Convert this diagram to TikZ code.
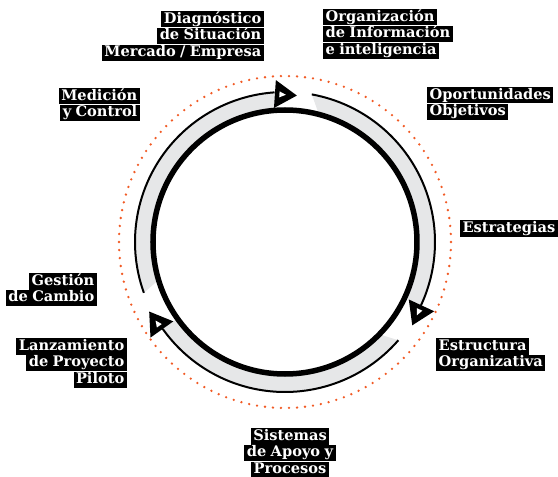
\documentclass[tikz,border=0pt]{standalone}
\usepackage{fontspec}
\setmainfont[WordSpace=0.85]{DejaVu Serif}
\usetikzlibrary{positioning}
\definecolor{band}{HTML}{E6E7E8}
\definecolor{dotc}{HTML}{F15A24}
\tikzset{
  lbl/.style={fill=black, text=white, font=\bfseries\fontsize{14.6}{16}\selectfont,
    inner xsep=2.5pt, inner ysep=1pt, text height=11pt, text depth=3.3pt},
  pics/arrowtip/.style={code={
    \fill[black] (0,-14)--(22,0)--(0,14)--cycle;
    \fill[white] (4.5,-3)--(11,0)--(4.5,3)--cycle;}}
}
\begin{document}
\begin{tikzpicture}[x=1pt, y=1pt, line join=round]
  \def\rin{132}\def\rout{150}\def\rdot{166}
  \useasboundingbox (-285,-235) rectangle (273,242);
  % dotted ring
  \foreach \i in {1,...,130} \fill[dotc] ({\i*(360/130)}:\rdot) circle (1.3);
  % grey bands
  \fill[band] (199.8:\rout) arc[start angle=199.8, end angle=94, radius=\rout]
    -- (94:\rin) arc[start angle=94, end angle=196.7, radius=\rin] -- cycle;
  \fill[band] (79.7:\rout) arc[start angle=79.7, end angle=-25, radius=\rout]
    -- (-25:\rin) arc[start angle=-25, end angle=75.1, radius=\rin] -- cycle;
  \fill[band] (-40.9:\rout) arc[start angle=-40.9, end angle=-144.6, radius=\rout]
    -- (-144.6:\rin) arc[start angle=-144.6, end angle=-44.4, radius=\rin] -- cycle;
  % outer lines
  \draw[line width=2pt] (199.8:\rout) arc[start angle=199.8, end angle=94, radius=\rout];
  \draw[line width=2pt] (79.7:\rout) arc[start angle=79.7, end angle=-25, radius=\rout];
  \draw[line width=2pt] (-40.9:\rout) arc[start angle=-40.9, end angle=-144.6, radius=\rout];
  % inner ring
  \draw[line width=5.5pt] (0,0) circle (\rin);
  % arrow tips
  \pic[rotate=-3.9] at (93.9:148.3) {arrowtip};
  \pic[rotate=-114.9] at (-24.9:150.5) {arrowtip};
  \pic[rotate=125.4] at (215.4:151) {arrowtip};
  % labels
  \node[lbl, anchor=north east] (diag1) at (-21,231) {Diagnóstico};
  \node[lbl, anchor=north east] (diag2) at (diag1.south east) {de Situación};
  \node[lbl, anchor=north east] (diag3) at (diag2.south east) {Mercado / Empresa};
  \node[lbl, anchor=north west] (org1) at (38,233) {Organización};
  \node[lbl, anchor=north west] (org2) at (org1.south west) {de Información};
  \node[lbl, anchor=north west] (org3) at (org2.south west) {e inteligencia};
  \node[lbl, anchor=north west] (opo1) at (142,155) {Oportunidades};
  \node[lbl, anchor=north west] (opo2) at (opo1.south west) {Objetivos};
  \node[lbl, anchor=north east] (est1) at (273,22) {Estrategias};
  \node[lbl, anchor=north west] (str1) at (151,-96) {Estructura};
  \node[lbl, anchor=north west] (str2) at (str1.south west) {Organizativa};
  \node[lbl, anchor=north] (sis1) at (5,-186) {Sistemas};
  \node[lbl, anchor=north] (sis2) at (sis1.south) {de Apoyo y};
  \node[lbl, anchor=north] (sis3) at (sis2.south) {Procesos};
  \node[lbl, anchor=north east] (lan1) at (-158,-96) {Lanzamiento};
  \node[lbl, anchor=north east] (lan2) at (lan1.south east) {de Proyecto};
  \node[lbl, anchor=north east] (lan3) at (lan2.south east) {Piloto};
  \node[lbl, anchor=north east] (ges1) at (-188,-31) {Gestión};
  \node[lbl, anchor=north east] (ges2) at (ges1.south east) {de Cambio};
  \node[lbl, anchor=north east] (med1) at (-145,154) {Medición};
  \node[lbl, anchor=north east] (med2) at (med1.south east) {y Control};
\end{tikzpicture}
\end{document}
